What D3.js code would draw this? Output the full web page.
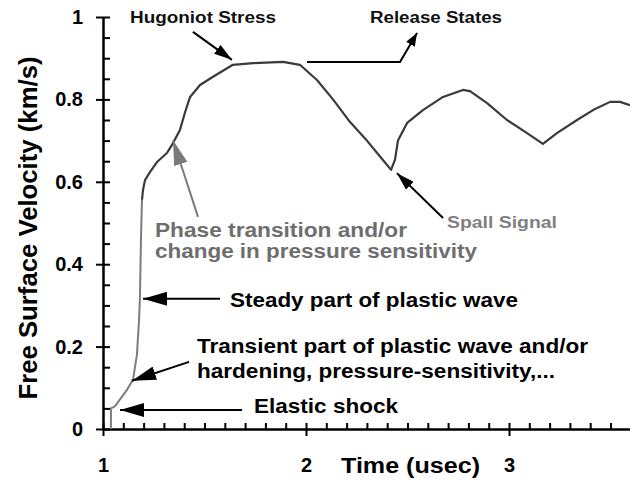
<!DOCTYPE html>
<html>
<head>
<meta charset="utf-8">
<script src="https://cdn.jsdelivr.net/npm/d3@7"></script>
<style>
  body { margin: 0; background: #fff; }
  text { font-family: "Liberation Sans", Arial, sans-serif; }
</style>
</head>
<body>
<div id="chart"></div>
<script>
var width = 630
var height = 483

// rise of the plastic wave (lighter trace)
var riseTime = [1.039, 1.039, 1.059, 1.118, 1.148, 1.167, 1.177, 1.182, 1.187, 1.192]
var riseVel  = [0.0, 0.05, 0.055, 0.095, 0.12, 0.18, 0.26, 0.32, 0.46, 0.556]

// rest of the record
var mainTime = [1.192, 1.197, 1.207, 1.232, 1.266, 1.315, 1.345, 1.379, 1.405, 1.429, 1.478, 1.542,
                1.640, 1.739, 1.887, 1.970, 2.054, 2.133, 2.217, 2.300, 2.379, 2.419, 2.438, 2.453,
                2.498, 2.576, 2.675, 2.773, 2.808, 2.892, 2.990, 3.089, 3.167, 3.236, 3.335, 3.414,
                3.498, 3.547, 3.596]
var mainVel  = [0.556, 0.58, 0.604, 0.624, 0.648, 0.67, 0.694, 0.726, 0.77, 0.806, 0.835, 0.855,
                0.884, 0.888, 0.891, 0.884, 0.847, 0.80, 0.745, 0.70, 0.653, 0.629, 0.653, 0.70,
                0.743, 0.774, 0.806, 0.823, 0.82, 0.791, 0.75, 0.718, 0.692, 0.718, 0.75, 0.774,
                0.794, 0.794, 0.786]

var xMajor = [1, 2, 3]
var yMajor = [0, 0.2, 0.4, 0.6, 0.8, 1]
var yLabels = ["0", "0.2", "0.4", "0.6", "0.8", "1"]

// arrows in data units [time, velocity]
var arrowHugoniot  = [[1.443, 0.964], [1.635, 0.896]]
var arrowRelease   = [[2.005, 0.891], [2.463, 0.891], [2.547, 0.961]]
var arrowSpall     = [[2.675, 0.512], [2.448, 0.621]]
var arrowPhase     = [[1.468, 0.515], [1.345, 0.701]]
var arrowSteady    = [[1.576, 0.316], [1.197, 0.316]]
var arrowTransient = [[1.424, 0.163], [1.143, 0.117]]
var arrowElastic   = [[1.685, 0.046], [1.084, 0.046]]

var x = d3.scaleLinear().domain([1, 3.596]).range([103, 630])
var y = d3.scaleLinear().domain([0, 1]).range([429, 17])

var svg = d3.select("#chart")
    .append("svg")
    .attr("width", width)
    .attr("height", height)

var defs = svg.append("defs")
function marker(id, len, wid, color){
    defs.append("marker")
        .attr("id", id)
        .attr("viewBox", "0 0 10 10")
        .attr("refX", 10).attr("refY", 5)
        .attr("markerUnits", "userSpaceOnUse")
        .attr("markerWidth", len).attr("markerHeight", wid)
        .attr("preserveAspectRatio", "none")
        .attr("orient", "auto")
        .append("path")
        .attr("d", "M0,0 L10,5 L0,10 z")
        .attr("fill", color)
}
marker("bigHead", 24, 14, "#000")
marker("midHead", 18, 11, "#000")
marker("smallHead", 13, 10, "#000")
marker("grayHead", 25, 14, "#7a7a7a")

// y axis
var yAxis = svg.append("g")
    .attr("transform", "translate(103,0)")
    .call(d3.axisLeft(y).tickValues(yMajor).tickSizeInner(7).tickSizeOuter(0).tickPadding(13)
        .tickFormat((d, i) => yLabels[i]))
svg.append("g")
    .attr("transform", "translate(103,0)")
    .call(d3.axisRight(y).tickValues(d3.range(0, 1.001, 0.05)).tickSize(7).tickSizeOuter(0).tickFormat(""))

// x axis
var xAxis = svg.append("g")
    .attr("transform", "translate(0,429)")
    .call(d3.axisBottom(x).tickValues(xMajor).tickSizeInner(7).tickSizeOuter(0).tickPadding(22)
        .tickFormat(d3.format("d")))
svg.append("g")
    .attr("transform", "translate(0,429)")
    .call(d3.axisTop(x).tickValues(d3.range(1, 3.6, 0.1)).tickSize(6).tickSizeOuter(0).tickFormat(""))

svg.selectAll(".domain").attr("stroke", "#000").attr("stroke-width", 2)
svg.selectAll(".tick line").attr("stroke", "#000").attr("stroke-width", 2)
yAxis.selectAll("text").attr("font-size", 20).attr("font-weight", "bold").attr("fill", "#000")
    .attr("font-family", "Liberation Sans, Arial, sans-serif")
xAxis.selectAll("text").attr("font-size", 20).attr("font-weight", "bold")
    .attr("fill", "#000").attr("font-family", "Liberation Sans, Arial, sans-serif")

// axis titles
svg.append("text")
    .attr("transform", "translate(37,228) rotate(-90)")
    .attr("text-anchor", "middle")
    .attr("font-size", 25).attr("font-weight", "bold")
    .attr("textLength", 343).attr("lengthAdjust", "spacingAndGlyphs")
    .text("Free Surface Velocity (km/s)")

svg.append("text")
    .attr("x", 341).attr("y", 473)
    .attr("font-size", 22).attr("font-weight", "bold")
    .attr("textLength", 139).attr("lengthAdjust", "spacingAndGlyphs")
    .text("Time (usec)")

// trace
var line = d3.line().x(d => x(d[0])).y(d => y(d[1]))
svg.append("path")
    .datum(d3.zip(riseTime, riseVel))
    .attr("d", line)
    .attr("fill", "none").attr("stroke", "#7d7d7d").attr("stroke-width", 2)
svg.append("path")
    .datum(d3.zip(mainTime, mainVel))
    .attr("d", line)
    .attr("fill", "none").attr("stroke", "#3a3a3a").attr("stroke-width", 2.2)
    .attr("stroke-linejoin", "round")

// arrows
function arrow(pts, head, color){
    svg.append("path")
        .datum(pts)
        .attr("d", line)
        .attr("fill", "none")
        .attr("stroke", color)
        .attr("stroke-width", 2)
        .attr("marker-end", "url(#" + head + ")")
}
arrow(arrowHugoniot, "midHead", "#000")
arrow(arrowRelease, "smallHead", "#000")
arrow(arrowSpall, "midHead", "#000")
arrow(arrowPhase, "grayHead", "#7a7a7a")
arrow(arrowSteady, "bigHead", "#000")
arrow(arrowTransient, "bigHead", "#000")
arrow(arrowElastic, "bigHead", "#000")

// annotation text
function label(str, px, py, size, len, color){
    svg.append("text")
        .attr("x", px).attr("y", py)
        .attr("font-size", size).attr("font-weight", "bold")
        .attr("fill", color)
        .attr("textLength", len).attr("lengthAdjust", "spacingAndGlyphs")
        .text(str)
}
label("Hugoniot Stress", 130, 23, 16, 146, "#111")
label("Release States", 370, 23, 16, 132, "#111")
label("Spall Signal", 447, 228, 16, 110, "#808080")
label("Phase transition and/or", 155, 237, 20, 252, "#6e6e6e")
label("change in pressure sensitivity", 155, 258, 20, 322, "#6e6e6e")
label("Steady part of plastic wave", 230, 307, 20, 288, "#000")
label("Transient part of plastic wave and/or", 197, 353, 20, 391, "#000")
label("hardening, pressure-sensitivity,...", 197, 378, 20, 358, "#000")
label("Elastic shock", 254, 413, 20, 144, "#000")
</script>
</body>
</html>
